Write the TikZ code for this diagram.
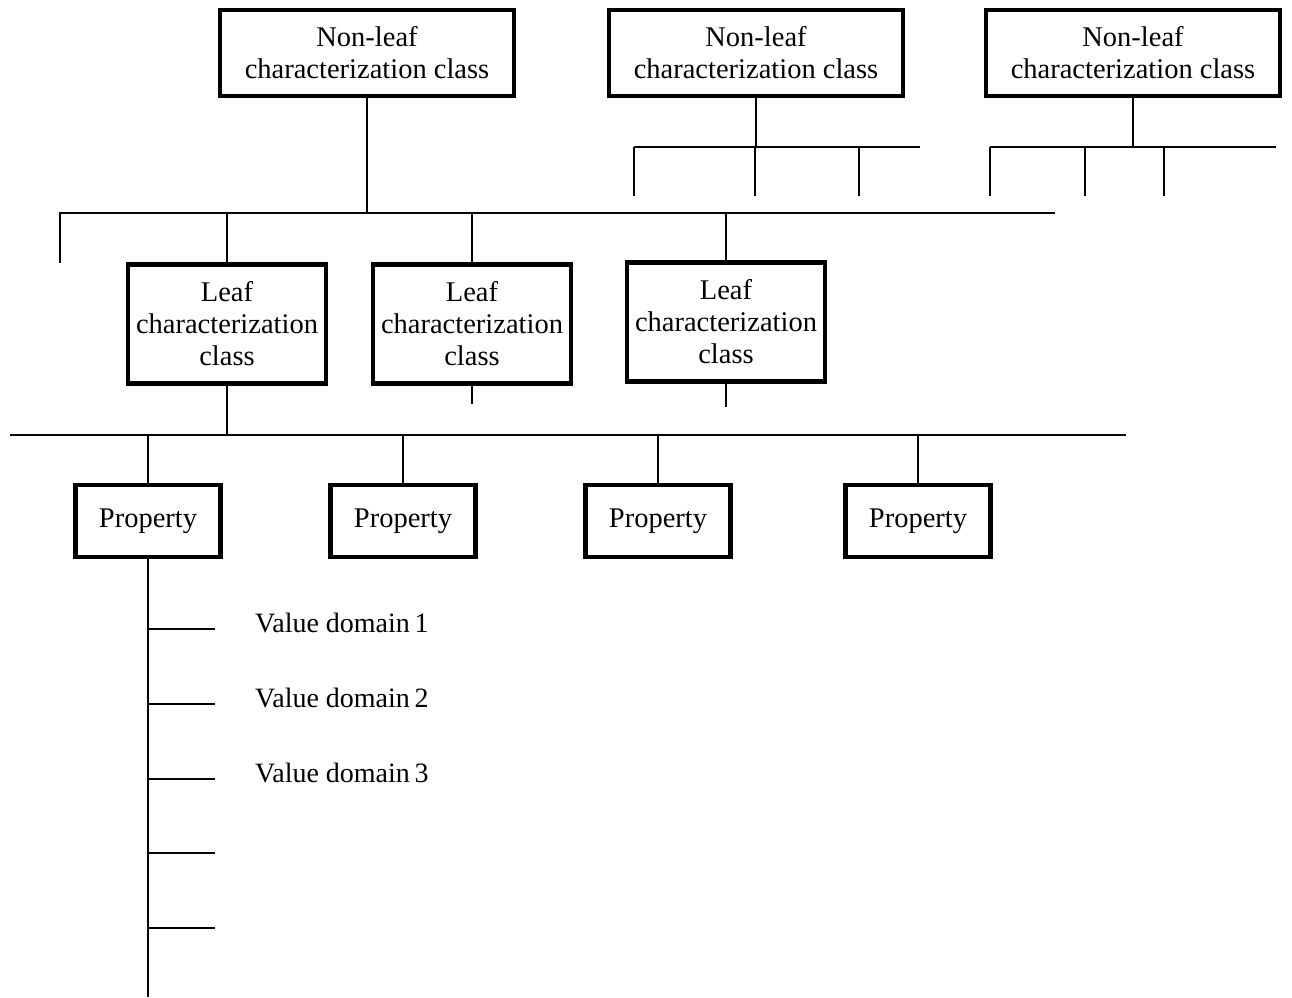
\documentclass[tikz,border=0pt]{standalone}
\usepackage{fontspec}
\setmainfont{Liberation Serif}
\begin{document}
\begin{tikzpicture}[x=1pt,y=-1pt,
  box/.style={draw,line width=4.5pt,rectangle,inner sep=0pt,align=center,font=\fontsize{28.5}{32}\selectfont},
  nlbox/.style={box,minimum width=294pt,minimum height=86pt},
  leafbox/.style={box,minimum width=198pt,minimum height=119pt},
  propbox/.style={box,minimum width=145pt,minimum height=72pt},
  conn/.style={line width=2pt},
  lbl/.style={anchor=west,inner sep=0pt,font=\fontsize{28}{30}\selectfont}]
\useasboundingbox (0,0) rectangle (1292,997);
% non-leaf classes
\node[nlbox] (nl1) at (367,53) {Non-leaf\\characterization class};
\node[nlbox] (nl2) at (756,53) {Non-leaf\\characterization class};
\node[nlbox] (nl3) at (1133,53) {Non-leaf\\characterization class};
% leaf classes
\node[leafbox] (lf1) at (227,324) {Leaf\\characterization\\class};
\node[leafbox] (lf2) at (472,324) {Leaf\\characterization\\class};
\node[leafbox] (lf3) at (726,322) {Leaf\\characterization\\class};
% properties
\node[propbox] (p1) at (148,521) {Property};
\node[propbox] (p2) at (403,521) {Property};
\node[propbox] (p3) at (658,521) {Property};
\node[propbox] (p4) at (918,521) {Property};
% bus coordinates
\coordinate (b1l) at (60,213);
\coordinate (b1r) at (1055,213);
\coordinate (b1ld) at (60,263);
\coordinate (b2l) at (10,435);
\coordinate (b2r) at (1126,435);
% nl1 tree
\draw[conn] (nl1.south) -- (nl1.south |- b1l);
\draw[conn] (b1ld) -- (b1l) -- (b1r);
\draw[conn] (lf1.north |- b1l) -- (lf1.north);
\draw[conn] (lf2.north |- b1l) -- (lf2.north);
\draw[conn] (lf3.north |- b1l) -- (lf3.north);
% nl2 tree
\coordinate (n2l) at (634,147);
\coordinate (n2r) at (920,147);
\coordinate (n2a) at (634,196);
\coordinate (n2b) at (755,196);
\coordinate (n2c) at (859,196);
\draw[conn] (nl2.south) -- (nl2.south |- n2l);
\draw[conn] (n2l) -- (n2r);
\draw[conn] (n2a) -- (n2a |- n2l);
\draw[conn] (n2b) -- (n2b |- n2l);
\draw[conn] (n2c) -- (n2c |- n2l);
% nl3 tree
\coordinate (n3l) at (990,147);
\coordinate (n3r) at (1276,147);
\coordinate (n3a) at (990,196);
\coordinate (n3b) at (1085,196);
\coordinate (n3c) at (1164,196);
\draw[conn] (nl3.south) -- (nl3.south |- n3l);
\draw[conn] (n3l) -- (n3r);
\draw[conn] (n3a) -- (n3a |- n3l);
\draw[conn] (n3b) -- (n3b |- n3l);
\draw[conn] (n3c) -- (n3c |- n3l);
% leaf stubs
\coordinate (l2s) at (472,404);
\coordinate (l3s) at (726,407);
\draw[conn] (lf2.south) -- (l2s);
\draw[conn] (lf3.south) -- (l3s);
% property bus
\draw[conn] (lf1.south) -- (lf1.south |- b2l);
\draw[conn] (b2l) -- (b2r);
\draw[conn] (p1.north |- b2l) -- (p1.north);
\draw[conn] (p2.north |- b2l) -- (p2.north);
\draw[conn] (p3.north |- b2l) -- (p3.north);
\draw[conn] (p4.north |- b2l) -- (p4.north);
% value domains
\coordinate (vend) at (148,997);
\draw[conn] (p1.south) -- (vend);
\foreach \y/\n in {629/1,704/2,779/3,853/4,928/5}{
  \coordinate (t\n) at (215,\y);
  \draw[conn] (p1.south |- t\n) -- (t\n);
}
\node[lbl] (v1) at (255,623) {Value domain\,1};
\node[lbl] (v2) at (255,698) {Value domain\,2};
\node[lbl] (v3) at (255,773) {Value domain\,3};
\end{tikzpicture}
\end{document}
